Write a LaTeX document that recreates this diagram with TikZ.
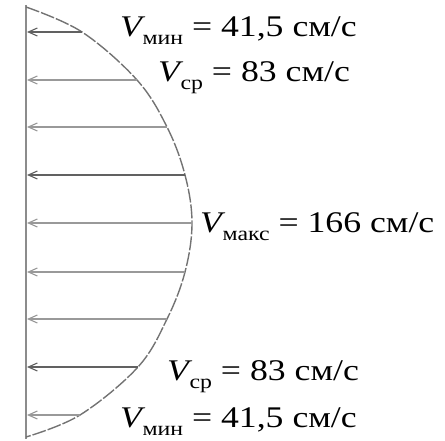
\documentclass[tikz,border=0pt]{standalone}
\usepackage{fontspec}
\setmainfont{Liberation Serif}[ItalicFont=Liberation Serif Italic]
\usetikzlibrary{arrows.meta}
\tikzset{
  flow/.style={draw=black!40, line width=1.8pt, -{Straight Barb[length=9pt,width=8pt,line width=1.1pt]}},
  flowdark/.style={flow, draw=black!62},
  wall/.style={draw=black!45, line width=1.7pt},
  profile/.style={draw=black!55, line width=1.4pt, dash pattern=on 14pt off 2pt},
  lbl/.style={anchor=base west, inner sep=0pt, font=\fontsize{30}{32}\selectfont},
}
\newcommand{\Vsub}[1]{{\itshape V}\kern0.5pt\raisebox{-8pt}{\fontsize{20}{22}\selectfont #1}}
\newcommand{\lab}[1]{\scalebox{1.19}[1]{#1}}
\begin{document}
\begin{tikzpicture}[x=1pt,y=1pt]
\useasboundingbox (0,0) rectangle (445,-441);
% wall
\coordinate (wt) at (26,-5);
\coordinate (wb) at (26,-439);
\draw[wall] (wt) -- (wb);
% profile points
\coordinate (p1) at (82,-32);
\coordinate (p2) at (137,-80);
\coordinate (p3) at (167,-127);
\coordinate (p4) at (185,-175);
\coordinate (p5) at (192,-223);
\coordinate (p6) at (185,-272);
\coordinate (p7) at (167,-319);
\coordinate (p8) at (138,-367);
\coordinate (p9) at (80,-415);
\draw[profile] plot[smooth,tension=0.6] coordinates {(26,-7) (82,-32) (137,-80) (167,-127) (185,-175) (192,-223) (185,-272) (167,-319) (138,-367) (80,-415) (26,-437)};
% wall points
\foreach \i/\y in {1/32,2/80,3/127,4/175,5/223,6/272,7/319,8/367,9/415}{
  \coordinate (w\i) at (27,-\y);
}
\draw[flowdark] (p1) -- (w1);
\draw[flow] (p2) -- (w2);
\draw[flow] (p3) -- (w3);
\draw[flowdark] (p4) -- (w4);
\draw[flow] (p5) -- (w5);
\draw[flow] (p6) -- (w6);
\draw[flow] (p7) -- (w7);
\draw[flowdark] (p8) -- (w8);
\draw[flow] (p9) -- (w9);
% labels
\node[lbl] (l1) at (120,-37) {\lab{\Vsub{мин} = 41,5 см/с}};
\node[lbl] (l2) at (158,-82) {\lab{\Vsub{ср} = 83 см/с}};
\node[lbl] (l3) at (200,-233) {\lab{\Vsub{макс} = 166 см/с}};
\node[lbl] (l4) at (167,-380) {\lab{\Vsub{ср} = 83 см/с}};
\node[lbl] (l5) at (120,-427) {\lab{\Vsub{мин} = 41,5 см/с}};
\end{tikzpicture}
\end{document}
